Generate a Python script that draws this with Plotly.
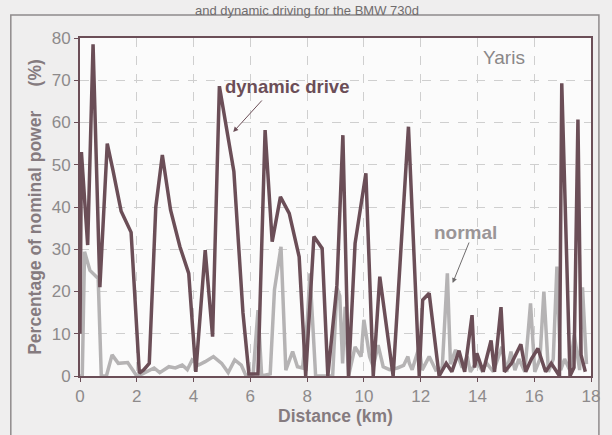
import plotly.graph_objects as go

# Dynamic drive series (km, % of nominal power)
dyn_km = [0, 0.05, 0.27, 0.46, 0.7, 0.96, 1.16, 1.45, 1.8, 2.09, 2.25, 2.44, 2.67, 2.9,
          3.19, 3.52, 3.83, 4.08, 4.41, 4.67, 4.91, 5.42, 5.74, 5.95, 6.27, 6.52, 6.77,
          7.06, 7.37, 7.72, 7.95, 8.24, 8.53, 8.73, 9.05, 9.26, 9.46, 9.69, 10.07, 10.33,
          10.56, 11.03, 11.57, 11.95, 12.07, 12.3, 12.65, 12.9, 13.1, 13.35, 13.55, 13.81,
          13.9, 13.98, 14.2, 14.48, 14.6, 14.83, 14.95, 15.2, 15.53, 15.7, 15.9, 16.13,
          16.4, 16.6, 16.89, 16.97, 17.26, 17.4, 17.54, 17.65, 17.8]
dyn_val = [10, 53, 31, 78.5, 21, 55, 48.7, 39, 34, 0.7, 1.5, 3, 40, 52.3,
           39.3, 30.6, 24.3, 1, 29.8, 9.3, 68.6, 48.4, 15, 0.5, 0.5, 58.2, 31.8,
           42.4, 38.5, 28.2, 0, 33, 30.2, 0, 21.5, 57, 0, 31.4, 48, 0,
           23.5, 0, 59, 0, 18, 19.6, 0, 3, 1, 6, 1, 14.4,
           2, 5.4, 1, 8.4, 1, 16.3, 1, 3, 7.5, 1, 4, 6.5,
           1, 3, 0, 69.3, 0, 2, 60.7, 5, 1]

# Normal drive series
nor_km = [0, 0.08, 0.16, 0.35, 0.64, 0.75, 0.93, 1.13, 1.35, 1.68, 2.0, 2.2, 2.61, 2.81,
          3.13, 3.36, 3.6, 3.78, 3.95, 4.18, 4.41, 4.7, 4.99, 5.22, 5.45, 5.68, 5.85,
          6.1, 6.27, 6.4, 6.7, 6.85, 7.08, 7.25, 7.49, 7.66, 7.84, 8.01, 8.1, 8.3, 8.9,
          9.05, 9.15, 9.25, 9.34, 9.46, 9.69, 9.9, 10.0, 10.2, 10.33, 10.5, 10.68, 10.9,
          11.18, 11.4, 11.55, 11.6, 11.7, 11.95, 12.05, 12.3, 12.53, 12.76, 12.94, 13.05,
          13.23, 13.46, 13.64, 13.75, 13.98, 14.15, 14.33, 14.56, 14.86, 15.03, 15.18,
          15.32, 15.46, 15.67, 15.87, 16.02, 16.2, 16.34, 16.5, 16.67, 16.8, 16.93, 17.07,
          17.25, 17.41, 17.6, 17.7, 17.84]
nor_val = [0, 0, 29.4, 25, 23.1, 0, 0, 5, 3, 3.2, 0, 0.5, 1.9, 0.8,
           2.2, 1.9, 2.6, 1.5, 3.8, 2.6, 3.4, 4.6, 3, 0.8, 3.8, 2.6, 0,
           0.5, 15.6, 0, 0.5, 20.4, 30.6, 1.4, 5.8, 2.2, 1.9, 13.3, 24.3, 0, 0,
           20.8, 19, 3, 16.4, 0, 6.9, 4.6, 13.3, 4.6, 2.2, 7.3, 2.2, 1.5,
           1.9, 2.5, 4.6, 3, 1.5, 6.9, 1.4, 4.6, 1.4, 2, 24.3, 2.8,
           6.2, 2, 4.6, 1, 3.4, 1.4, 3, 1, 6.9, 1, 5.8,
           1.4, 4, 1, 17.2, 1, 4, 20, 1, 4, 25.9, 1.4, 4,
           1.4, 9.7, 1.4, 21, 2.8]

x_ticks = [0, 2, 4, 6, 8, 10, 12, 14, 16, 18]
y_ticks = [0, 10, 20, 30, 40, 50, 60, 70, 80]

DYN = "#6b4e57"
NOR = "#b5b3b4"
TXT = "#8d8a8b"
FONT = "Liberation Sans, Arial, sans-serif"

fig = go.Figure()
fig.add_trace(go.Scatter(x=nor_km, y=nor_val, mode="lines",
                         line=dict(color=NOR, width=3.5), showlegend=False))
fig.add_trace(go.Scatter(x=dyn_km, y=dyn_val, mode="lines",
                         line=dict(color=DYN, width=3.5), showlegend=False))

fig.update_layout(
    width=612, height=435,
    margin=dict(l=80, r=15, t=38, b=59),
    paper_bgcolor="#efeeee",
    plot_bgcolor="#fbfbfb",
    font=dict(family=FONT, color=TXT, size=17),
    showlegend=False,
)
fig.update_xaxes(
    range=[0, 18], tickvals=x_ticks, ticks="outside", ticklen=4, tickcolor=DYN,
    showline=True, linecolor=DYN, linewidth=2, mirror=True,
    showgrid=True, gridcolor="#cfcfcf", griddash="dash", gridwidth=1,
    zeroline=False, tickfont=dict(size=17, color=TXT),
    title=dict(text="<b>Distance (km)</b>", font=dict(size=17.5, color="#857b7f"), standoff=2),
)
fig.update_yaxes(
    range=[0, 80], tickvals=y_ticks, ticks="outside", ticklen=4, tickcolor=DYN,
    showline=True, linecolor=DYN, linewidth=2, mirror=True,
    showgrid=True, gridcolor="#cfcfcf", griddash="dash", gridwidth=1,
    zeroline=False, tickfont=dict(size=17, color=TXT),
    title=dict(text="<b>Percentage of nominal power     (%)</b>",
               font=dict(size=17.5, color="#857b7f"), standoff=6),
)

# outer scanned frame
fig.add_shape(type="rect", xref="paper", yref="paper",
              x0=-70 / 517, x1=(605 - 80) / 517, y0=-(440 - 376) / 338, y1=(376 - 15) / 338,
              line=dict(color="#8f8b8c", width=1.5), fillcolor="rgba(0,0,0,0)", layer="below")

annots = [
    dict(text="and dynamic driving for the BMW 730d", xref="paper", yref="paper",
         x=(310 - 80) / 517, y=(376 - 1) / 338, xanchor="center", yanchor="top",
         showarrow=False, font=dict(size=13, color="#6f6c6d", family=FONT)),
    dict(text="<b>dynamic drive</b>", x=(289 - 80) / 28.72, y=(376 - 86) / 4.225,
         showarrow=False, font=dict(size=18.5, color=DYN, family=FONT)),
    dict(text="", x=(235 - 80) / 28.72, y=(376 - 132) / 4.225, ax=30, ay=-33,
         showarrow=True, arrowhead=2, arrowsize=1, arrowwidth=1, arrowcolor=DYN),
    dict(text="<b>normal</b>", x=(470 - 80) / 28.72, y=(376 - 232) / 4.225,
         showarrow=False, font=dict(size=19, color="#9a9597", family=FONT)),
    dict(text="", x=(457 - 80) / 28.72, y=(376 - 283) / 4.225, ax=17, ay=-42,
         showarrow=True, arrowhead=2, arrowsize=1, arrowwidth=1, arrowcolor="#6f6c6d"),
    dict(text="Yaris", x=(509 - 80) / 28.72, y=(376 - 57) / 4.225,
         showarrow=False, font=dict(size=19, color="#8a8788", family=FONT)),
]
fig.update_layout(annotations=annots)

fig.write_html("out.html")
